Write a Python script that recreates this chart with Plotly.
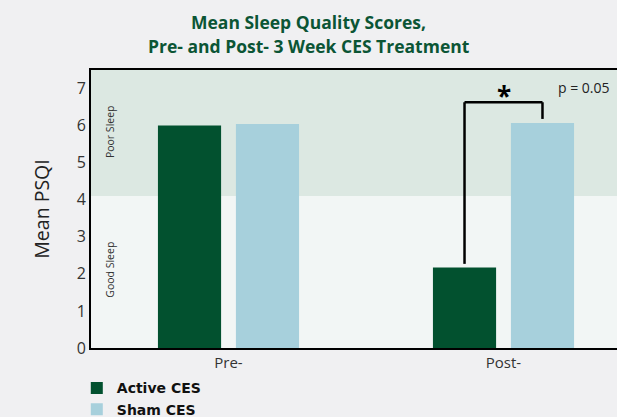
import plotly.graph_objects as go

# ---- data ----
categories = ["Pre-", "Post-"]
active_ces = [6.0, 2.17]
sham_ces = [6.04, 6.07]
series_names = ["Active CES", "Sham CES"]
y_ticks = [0, 1, 2, 3, 4, 5, 6, 7]
poor_sleep_cutoff = 4.1
p_value_label = "p = 0.05"
title_lines = ["Mean Sleep Quality Scores,", "Pre- and Post- 3 Week CES Treatment"]

# ---- style ----
DARK_GREEN = "#02512f"
LIGHT_BLUE = "#a7d0dc"
TITLE_GREEN = "#0b5535"
FONT = "Open Sans, Lato, sans-serif"
LEGEND_FONT = "DejaVu Sans, Open Sans, sans-serif"
BARGAP = 0.433
BARGROUPGAP = 0.19
Y_MAX = 7.5

fig = go.Figure()
fig.add_trace(go.Bar(x=categories, y=active_ces, name="<b>" + series_names[0] + "</b>",
                     marker=dict(color=DARK_GREEN, line=dict(width=0))))
fig.add_trace(go.Bar(x=categories, y=sham_ces, name="<b>" + series_names[1] + "</b>",
                     marker=dict(color=LIGHT_BLUE, line=dict(width=0))))

# background bands
fig.add_shape(type="rect", xref="paper", yref="y", x0=0, x1=1, y0=0, y1=poor_sleep_cutoff,
              fillcolor="#f2f6f5", line=dict(width=0), layer="below")
fig.add_shape(type="rect", xref="paper", yref="y", x0=0, x1=1, y0=poor_sleep_cutoff, y1=Y_MAX,
              fillcolor="#dce8e2", line=dict(width=0), layer="below")

# significance bracket on Post- group, at bar centres
slot = (1 - BARGAP) / 2
off = slot / 2
post_i = categories.index("Post-")
xa = post_i - off
xs = post_i + off
top = max(active_ces[post_i], sham_ces[post_i]) + 0.56
bl = dict(color="black", width=2.5)
fig.add_shape(type="line", x0=xa, x1=xa, y0=active_ces[post_i] + 0.1, y1=top, line=bl)
fig.add_shape(type="line", x0=xa, x1=xs, y0=top, y1=top, line=bl)
fig.add_shape(type="line", x0=xs, x1=xs, y0=top, y1=sham_ces[post_i] + 0.11, line=bl)
fig.add_annotation(x=(xa + xs) / 2, y=top + 0.17, text="<b>*</b>", showarrow=False,
                   yanchor="middle", font=dict(size=26, color="black", family=FONT))
fig.add_annotation(x=xs + 0.05, y=top + 0.4, text=p_value_label, showarrow=False,
                   xanchor="left", yanchor="middle", font=dict(size=14, color="#222", family=FONT))

# band labels
fig.add_annotation(xref="paper", x=0.036, xanchor="center", y=(poor_sleep_cutoff + Y_MAX) / 2 + 0.05,
                   text="Poor Sleep", textangle=-90, showarrow=False,
                   font=dict(size=10.5, color="#333", family=FONT))
fig.add_annotation(xref="paper", x=0.036, xanchor="center", y=poor_sleep_cutoff / 2 + 0.06,
                   text="Good Sleep", textangle=-90, showarrow=False,
                   font=dict(size=10.5, color="#333", family=FONT))

# title as two lines
for i, line in enumerate(title_lines):
    fig.add_annotation(xref="paper", yref="paper", x=0.4135, y=1.1727 - i * 0.0863,
                       text="<b>" + line + "</b>", showarrow=False, xanchor="center", yanchor="middle",
                       font=dict(size=17.5, color=TITLE_GREEN, family=FONT))

fig.update_layout(
    width=617, height=417,
    margin=dict(l=91, r=0, t=70, b=69, autoexpand=False),
    paper_bgcolor="#f0f0f2",
    plot_bgcolor="rgba(0,0,0,0)",
    barmode="group", bargap=BARGAP, bargroupgap=BARGROUPGAP,
    font=dict(family=FONT, color="#333"),
    showlegend=True,
    legend=dict(orientation="v", x=-0.027, xanchor="left", yref="container", y=0.107, yanchor="top",
                bgcolor="rgba(0,0,0,0)", font=dict(size=14, color="#111", family=LEGEND_FONT),
                itemsizing="constant", tracegroupgap=0),
)
fig.update_xaxes(range=[-0.5, -0.5 + 526 / 275], showline=True, linecolor="black", linewidth=2,
                 mirror=True, ticks="", tickfont=dict(size=15, color="#333"), showgrid=False,
                 automargin=False)
fig.update_yaxes(range=[0, Y_MAX], tickvals=y_ticks, showline=True, linecolor="black", linewidth=2,
                 mirror=False, ticks="", tickfont=dict(size=16, color="#333"), showgrid=False,
                 zeroline=False, automargin=False,
                 title=dict(text="Mean PSQI", font=dict(size=19.5, color="#222"), standoff=22))

fig.write_html("out.html", config={"displayModeBar": False},
               post_script="document.body.style.margin='0';document.body.style.overflow='hidden';")
